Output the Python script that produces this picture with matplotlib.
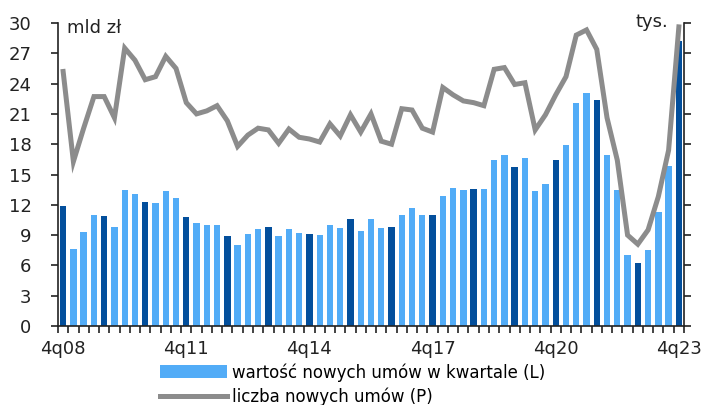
import matplotlib
matplotlib.use("Agg")
import matplotlib.pyplot as plt
import numpy as np
from matplotlib.patches import Patch
from matplotlib.lines import Line2D

plt.rcParams['font.family'] = ['DejaVu Sans']

# quarters 4q08 .. 4q23
start_year = 8
n_q = 61
quarter_labels = []
for i in range(n_q):
    q = (4 + i - 1) % 4 + 1
    y = start_year + (3 + i) // 4
    quarter_labels.append(f"{q}q{y:02d}")

# value of new mortgage contracts in quarter (bln PLN) - left axis
value_bln = [11.9, 7.6, 9.3, 11.0, 10.9, 9.8, 13.5, 13.1, 12.3, 12.2,
             13.4, 12.7, 10.8, 10.2, 10.0, 10.0, 8.9, 8.0, 9.1, 9.6,
             9.8, 8.9, 9.6, 9.2, 9.1, 9.0, 10.0, 9.7, 10.6, 9.4,
             10.6, 9.7, 9.8, 11.0, 11.7, 11.0, 11.0, 12.9, 13.7, 13.5,
             13.6, 13.6, 16.4, 16.9, 15.7, 16.6, 13.4, 14.1, 16.4, 17.9,
             22.1, 23.1, 22.4, 16.9, 13.5, 7.0, 6.2, 7.5, 11.3, 15.8,
             28.2]

# number of new contracts (thousands) - right axis
count_k = [58.8, 38.0, 45.7, 53.0, 53.0, 48.1, 64.2, 61.4, 56.9, 57.6,
           62.3, 59.5, 51.6, 49.0, 49.7, 50.9, 47.4, 41.5, 44.1, 45.7,
           45.3, 42.2, 45.5, 43.6, 43.2, 42.5, 46.7, 43.9, 48.8, 44.8,
           49.0, 42.7, 42.0, 50.2, 49.9, 45.7, 44.8, 55.1, 53.4, 52.0,
           51.6, 50.9, 59.3, 59.7, 55.8, 56.2, 45.3, 48.8, 53.4, 57.6,
           67.2, 68.4, 63.9, 48.1, 38.3, 21.0, 18.9, 22.2, 29.9, 40.6,
           69.1]

left_ticks = list(range(0, 31, 3))
right_ticks = list(range(0, 71, 7))
label_every = 12

light_blue = '#52acf7'
dark_blue = '#034f9c'
line_gray = '#8c8c8c'

fig = plt.figure(figsize=(7.08, 4.05), dpi=100)
ax = fig.add_axes([58/708, 1-326/405, (684-58)/708, (326-23)/405])
ax2 = ax.twinx()

x = np.arange(n_q)
colors = [dark_blue if lab.startswith('4q') else light_blue for lab in quarter_labels]
ax.bar(x, value_bln, width=0.62, color=colors, zorder=2)

ax2.plot(x, count_k, color=line_gray, lw=3.6, solid_joinstyle='miter', zorder=3)

ax.set_xlim(-0.5, n_q - 0.5)
ax.set_ylim(0, 30)
ax2.set_ylim(0, 70)
ax.set_yticks(left_ticks)
ax2.set_yticks(right_ticks)

ax.set_xticks(x[::label_every])
ax.set_xticklabels([quarter_labels[i] for i in range(0, n_q, label_every)])
ax.set_xticks(np.arange(-0.5, n_q, 1), minor=True)
ax.tick_params(axis='x', which='major', length=0, pad=10, labelsize=13, colors='#222222')
ax.tick_params(axis='x', which='minor', length=5, width=1.2, direction='out', color='#222222')
ax.tick_params(axis='y', length=5, width=1.2, direction='out', pad=14, labelsize=13, colors='#222222')
ax2.tick_params(axis='y', length=5, width=1.2, direction='out', pad=18, labelsize=13, colors='#222222')

for a in (ax, ax2):
    a.spines['top'].set_visible(False)
    for s in ('left', 'right', 'bottom'):
        a.spines[s].set_color('#222222')
        a.spines[s].set_linewidth(1.2)
ax.spines['right'].set_visible(False)
ax2.spines['left'].set_visible(False)
ax2.spines['bottom'].set_visible(False)

fig.text(67/708, 1-28/405, 'mld zł', fontsize=13, color='#222222', va='center', ha='left')
fig.text(668/708, 1-22/405, 'tys.', fontsize=13, color='#222222', va='center', ha='right')

handles = [Patch(facecolor=light_blue, edgecolor='none'),
           Line2D([0], [0], color=line_gray, lw=3.6)]
labels = ['wartość nowych umów w kwartale (L)', 'liczba nowych umów (P)']
fig.legend(handles, labels, loc='upper left', bbox_to_anchor=(160/708, 1-363/405),
           frameon=False, fontsize=12, handlelength=4.0, handleheight=0.8,
           handletextpad=0.3, labelspacing=0.35, borderaxespad=0, borderpad=0)

fig.savefig('out.png', dpi=100)
